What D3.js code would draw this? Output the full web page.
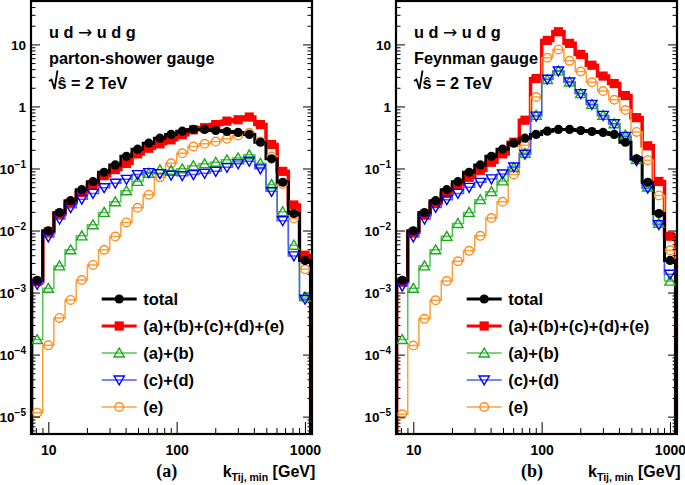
<!DOCTYPE html>
<html>
<head>
<meta charset="utf-8">
<script src="https://cdn.jsdelivr.net/npm/d3@7"></script>
<style>
  body { margin: 0; background: #fff; }
  svg { display: block; }
  text { font-family: "Liberation Sans", Arial, Helvetica, sans-serif; font-weight: bold; }
</style>
</head>
<body>
<div id="chart"></div>
<script>
// bin centres in k_T (GeV), log-spaced histogram bins
var kT = [8.19, 10.0, 12.22, 14.93, 18.24, 22.28, 27.23, 33.27, 40.64, 49.66, 60.67, 74.13,
          90.57, 110.7, 135.2, 165.2, 201.8, 246.6, 301.3, 368.1, 449.8, 549.5, 671.4, 820.3, 1002];

// total is gauge invariant, same in both panels
var total = [0.00158, 0.0099, 0.0195, 0.0303, 0.0456, 0.0614, 0.087, 0.114, 0.157, 0.205, 0.256, 0.308,
             0.354, 0.40, 0.426, 0.426, 0.41, 0.395, 0.381, 0.354, 0.265, 0.143, 0.06, 0.0188, 0.0033];

// (a) parton-shower gauge
var sumL = [0.0015, 0.0095, 0.0184, 0.0284, 0.0412, 0.0543, 0.0767, 0.096, 0.121, 0.172, 0.212, 0.25,
            0.29, 0.35, 0.42, 0.454, 0.51, 0.58, 0.61, 0.675, 0.51, 0.244, 0.09, 0.0258, 0.004];
var abL  = [1.75e-4, 1.17e-3, 2.69e-3, 4.9e-3, 8.2e-3, 0.0124, 0.0196, 0.0291, 0.0438, 0.062, 0.0836, 0.095,
            0.0935, 0.0986, 0.111, 0.119, 0.126, 0.138, 0.148, 0.166, 0.121, 0.055, 0.0201, 5.8e-3, 8.5e-4];
var cdL  = [1.36e-3, 7.9e-3, 0.0153, 0.0233, 0.032, 0.0397, 0.049, 0.058, 0.0669, 0.0797, 0.0859, 0.0827,
            0.078, 0.0767, 0.0797, 0.0836, 0.09, 0.1045, 0.119, 0.131, 0.0986, 0.0428, 0.0144, 3.9e-3, 7.8e-4];
var eL   = [1.16e-5, 1.41e-4, 3.9e-4, 7.6e-4, 1.59e-3, 2.79e-3, 4.88e-3, 8.0e-3, 0.0135, 0.0233, 0.0378, 0.072,
            0.121, 0.176, 0.226, 0.25, 0.272, 0.301, 0.34, 0.376, 0.272, 0.156, 0.0564, 0.0156, 0.00237];

// (b) Feynman gauge
var sumR = [1.5e-3, 9.3e-3, 0.018, 0.0277, 0.0397, 0.0549, 0.0721, 0.0935, 0.126, 0.172, 0.265, 0.60,
            2.82, 11.6, 16.0, 10.4, 6.9, 4.62, 3.09, 2.34, 1.50, 0.66, 0.232, 0.0618, 8.1e-3];
var abR  = [1.75e-4, 1.17e-3, 2.69e-3, 4.9e-3, 8.05e-3, 0.013, 0.0196, 0.0314, 0.0423, 0.063, 0.1035, 0.176,
            0.718, 2.72, 3.74, 2.48, 1.61, 1.08, 0.718, 0.527, 0.347, 0.139, 0.0504, 0.0131, 1.53e-3];
var cdR  = [1.27e-3, 7.9e-3, 0.0153, 0.0236, 0.0314, 0.0397, 0.0497, 0.0598, 0.068, 0.0818, 0.106, 0.17,
            0.70, 2.75, 3.74, 2.48, 1.61, 1.08, 0.718, 0.527, 0.328, 0.134, 0.048, 0.0124, 1.97e-3];
var eR   = [1.09e-5, 1.4e-4, 3.77e-4, 7.5e-4, 1.53e-3, 3.2e-3, 4.7e-3, 8.2e-3, 0.0159, 0.0291, 0.08, 0.237,
            1.42, 6.1, 8.3, 5.43, 3.66, 2.45, 1.77, 1.28, 0.875, 0.388, 0.136, 0.0368, 4.8e-3];

var legendLabels = ["total", "(a)+(b)+(c)+(d)+(e)", "(a)+(b)", "(c)+(d)", "(e)"];
var xTickValues = [10, 100, 1000];
var yTickValues = [1e-5, 1e-4, 1e-3, 1e-2, 1e-1, 1, 10];

var w = 685, h = 485;
var svg = d3.select("#chart").append("svg").attr("width", w).attr("height", h);

var top_ = 1, bottom = 434, pw = 281;

var y = d3.scaleLog().domain([5.25e-6, 50.1]).range([bottom, top_]);

// series styles
var styles = {
  total: {line: "#000000", lw: 3,   mark: "#000000", shape: "circle", fill: true},
  sum:   {line: "#ff0000", lw: 3.5, mark: "#ff0000", shape: "square", fill: true},
  ab:    {line: "#55c455", lw: 1.5, mark: "#1aaa1a", shape: "up",     fill: false},
  cd:    {line: "#4a5cff", lw: 1.5, mark: "#0000ff", shape: "down",   fill: false},
  e:     {line: "#ffa040", lw: 1.5, mark: "#ff8c1a", shape: "circle", fill: false}
};
var legendKeys = ["total", "sum", "ab", "cd", "e"];
var drawOrder = ["sum", "e", "ab", "cd", "total"];

var panels = [
  {x0: 31,  id: "a", gauge: "parton-shower gauge", tag: "(a)", tagX: 166.7, titleX: 222.7, legX: 101.7,
   data: {total: total, sum: sumL, ab: abL, cd: cdL, e: eL}},
  {x0: 396, id: "b", gauge: "Feynman gauge", tag: "(b)", tagX: 532, titleX: 588, legX: 466.7,
   data: {total: total, sum: sumR, ab: abR, cd: cdR, e: eR}}
];

function marker(sel, st, cx, cy) {
  var g;
  if (st.shape == "circle") {
    g = sel.append("circle").attr("cx", cx).attr("cy", cy).attr("r", st.fill ? 4.6 : 4.3);
  } else if (st.shape == "square") {
    g = sel.append("rect").attr("x", cx - 4.6).attr("y", cy - 4.6).attr("width", 9.2).attr("height", 9.2);
  } else {
    var sym = d3.symbol().type(d3.symbolTriangle).size(46);
    g = sel.append("path").attr("d", sym())
      .attr("transform", "translate(" + cx + "," + (st.shape == "up" ? cy + 1 : cy - 1) + ")" + (st.shape == "down" ? " rotate(180)" : ""));
  }
  if (st.fill) g.style("fill", st.mark).style("stroke", "none");
  else g.style("fill", "none").style("stroke", st.mark).style("stroke-width", 1.4);
}

panels.forEach(function(p) {
  var x = d3.scaleLog().domain([7.33, 1135]).range([p.x0, p.x0 + pw]);
  var g = svg.append("g");

  g.append("clipPath").attr("id", "clip" + p.id)
    .append("rect").attr("x", p.x0).attr("y", top_).attr("width", pw).attr("height", bottom - top_);

  // bin edges from the log centres
  var edges = kT.map(function(c, i) {
    return i == 0 ? c * c / Math.sqrt(c * kT[1]) : Math.sqrt(kT[i - 1] * c);
  });
  var last = kT[kT.length - 1];
  edges.push(last * last / Math.sqrt(last * kT[kT.length - 2]));

  var plot = g.append("g").attr("clip-path", "url(#clip" + p.id + ")");
  var line = d3.line().x(function(d) { return x(d[0]); }).y(function(d) { return d[1]; });

  drawOrder.forEach(function(key) {
    var vals = p.data[key], st = styles[key];
    var pts = [[edges[0], bottom + 5]];
    vals.forEach(function(v, i) {
      pts.push([edges[i], y(v)]);
      pts.push([edges[i + 1], y(v)]);
    });
    pts.push([edges[edges.length - 1], bottom + 5]);
    plot.append("path").attr("d", line(pts))
      .style("fill", "none").style("stroke", st.line).style("stroke-width", st.lw)
      .style("stroke-linejoin", "miter");
  });
  drawOrder.forEach(function(key) {
    var vals = p.data[key], st = styles[key];
    vals.forEach(function(v, i) { marker(plot, st, x(kT[i]), y(v)); });
  });

  // axes
  var yMinor = y.ticks(60).filter(function(t) { return yTickValues.indexOf(t) < 0; });
  var xMinor = x.ticks(30).filter(function(t) { return xTickValues.indexOf(t) < 0; });

  var yl = g.append("g").attr("transform", "translate(" + p.x0 + ",0)")
    .call(d3.axisLeft(y).tickValues(yTickValues).tickSize(-9).tickPadding(5).tickFormat(""));
  g.append("g").attr("transform", "translate(" + p.x0 + ",0)")
    .call(d3.axisLeft(y).tickValues(yMinor).tickSize(-4.5).tickFormat(""));
  g.append("g").attr("transform", "translate(" + (p.x0 + pw) + ",0)")
    .call(d3.axisRight(y).tickValues(yTickValues).tickSize(-9).tickFormat(""));
  g.append("g").attr("transform", "translate(" + (p.x0 + pw) + ",0)")
    .call(d3.axisRight(y).tickValues(yMinor).tickSize(-4.5).tickFormat(""));
  var xl = g.append("g").attr("transform", "translate(0," + bottom + ")")
    .call(d3.axisBottom(x).tickValues(xTickValues).tickSize(-12).tickPadding(11).tickFormat(d3.format("d")));
  g.append("g").attr("transform", "translate(0," + bottom + ")")
    .call(d3.axisBottom(x).tickValues(xMinor).tickSize(-6).tickFormat(""));

  g.selectAll(".domain").remove();
  g.selectAll(".tick line").style("stroke", "#000").style("stroke-width", 1);

  xl.selectAll(".tick text").style("font-family", "Liberation Sans, Arial, sans-serif")
    .style("font-weight", "bold").style("font-size", "14px").style("fill", "#000");

  yl.selectAll(".tick").each(function(d) {
    var k = Math.round(Math.log10(d));
    var t = d3.select(this).append("text").attr("x", -5).attr("dy", "0.36em")
      .attr("text-anchor", "end").style("font-size", "13.5px").style("fill", "#000");
    if (k == 0) t.text("1");
    else if (k == 1) t.text("10");
    else {
      t.append("tspan").text("10");
      t.append("tspan").attr("dy", -6).style("font-size", "10px").text("\u2212" + (-k));
    }
  });

  // frame
  g.append("rect").attr("x", p.x0).attr("y", top_).attr("width", pw).attr("height", bottom - top_)
    .style("fill", "none").style("stroke", "#000").style("stroke-width", 2.2);

  // annotations
  var tx = p.x0 + 18;
  var proc = g.append("text").attr("x", tx).attr("y", 38).style("font-size", "16.3px");
  proc.append("tspan").text("u d ");
  proc.append("tspan").style("font-family", "DejaVu Sans, sans-serif").style("font-weight", "normal")
    .style("font-size", "17px").text("\u2192");
  proc.append("tspan").text(" u d g");
  g.append("text").attr("x", tx).attr("y", 64).style("font-size", "16.3px").text(p.gauge);
  g.append("path")
    .attr("d", "M" + tx + ",81 L" + (tx + 2.5) + ",79.5 L" + (tx + 5.5) + ",89 L" + (tx + 8.5) + ",70.5")
    .style("fill", "none").style("stroke", "#000").style("stroke-width", 1.8);
  g.append("text").attr("x", tx + 8.5).attr("y", 89).style("font-size", "16.3px").text("\u015D = 2 TeV");

  // legend
  legendKeys.forEach(function(key, i) {
    var st = styles[key], ly = 299 + i * 27;
    g.append("line").attr("x1", p.legX).attr("x2", p.legX + 35).attr("y1", ly).attr("y2", ly)
      .style("stroke", st.line).style("stroke-width", key == "total" || key == "sum" ? 3 : 1.6);
    marker(g, st, p.legX + 17.5, ly);
    g.append("text").attr("x", p.legX + 41.5).attr("y", ly + 6).style("font-size", "16.5px").text(legendLabels[i]);
  });

  // x title and panel tag
  g.append("text").attr("x", p.tagX).attr("y", 477).attr("text-anchor", "middle")
    .style("font-family", "Liberation Serif, Times New Roman, serif").style("font-size", "18px").text(p.tag);
  var xt = g.append("text").attr("x", p.titleX).attr("y", 477).style("font-size", "16px");
  xt.append("tspan").text("k");
  xt.append("tspan").attr("dy", 4).style("font-size", "10.5px").text("Tij, min");
  xt.append("tspan").attr("dy", -4).text(" [GeV]");
});
</script>
</body>
</html>
